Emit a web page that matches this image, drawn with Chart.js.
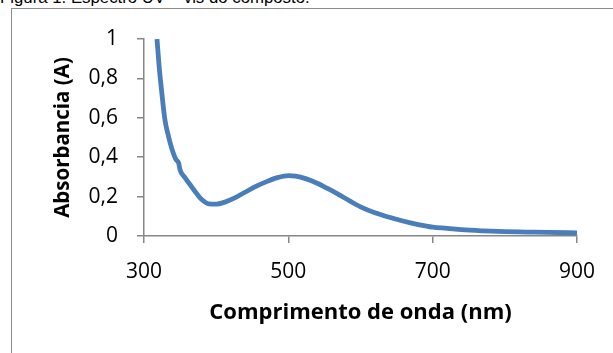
<!DOCTYPE html>
<html>
<head>
<meta charset="utf-8">
<script src="https://cdn.jsdelivr.net/npm/chart.js@4/dist/chart.umd.min.js"></script>
<style>
  html, body { margin: 0; padding: 0; background: #fff; width: 613px; height: 353px; overflow: hidden; }
  #wrap { position: relative; width: 613px; height: 353px; }
  #caption { position: absolute; left: 0; top: -12px; font-family: "Liberation Sans", Arial, sans-serif; font-size: 16.8px; line-height: 20px; color: #000; white-space: nowrap; }
  #frame { position: absolute; left: 11px; top: 8px; width: 640px; height: 400px; border: 1.5px solid #8c8c8c; box-sizing: border-box; background: #fff; }
  canvas { position: absolute; left: 0; top: 0; }
</style>
</head>
<body>
<div id="wrap">
  <div id="caption">Figura 1. Espectro UV – vis do composto.</div>
  <div id="frame"></div>
  <canvas id="c" width="613" height="353"></canvas>
</div>
<script>
const wavelength = [318, 321, 324, 329, 333, 338, 344, 348, 350, 356, 364, 371, 380, 390, 400, 412, 425, 440, 455, 470, 485, 500, 510, 525, 540, 555, 570, 585, 600, 620, 640, 660, 680, 700, 720, 740, 770, 800, 830, 860, 900];
const absorbance = [1.0, 0.86, 0.75, 0.59, 0.52, 0.45, 0.39, 0.37, 0.335, 0.30, 0.26, 0.225, 0.185, 0.163, 0.162, 0.172, 0.192, 0.222, 0.252, 0.276, 0.296, 0.306, 0.304, 0.29, 0.268, 0.24, 0.21, 0.178, 0.148, 0.118, 0.095, 0.075, 0.058, 0.045, 0.039, 0.032, 0.026, 0.022, 0.02, 0.018, 0.016];
const xTicks = [300, 500, 700, 900];
const yTicks = [0, 0.2, 0.4, 0.6, 0.8, 1];
const xTitle = "Comprimento de onda (nm)";
const yTitle = "Absorbancia (A)";

const fam = "'Open Sans', 'Liberation Sans', sans-serif";
const tickFont = { family: fam, size: 21 };
const axisGray = "#868686";

new Chart(document.getElementById("c"), {
  type: "line",
  data: {
    datasets: [{
      data: wavelength.map((x, i) => ({ x: x, y: absorbance[i] })),
      borderColor: "#4a7ebb",
      borderWidth: 4.8,
      pointRadius: 0,
      cubicInterpolationMode: "monotone",
      fill: false
    }]
  },
  options: {
    responsive: false,
    animation: false,
    devicePixelRatio: 1,
    layout: { padding: { top: 39, right: 36, bottom: 0, left: 0 } },
    plugins: { legend: { display: false }, tooltip: { enabled: false } },
    scales: {
      x: {
        type: "linear",
        min: 300, max: 900,
        afterBuildTicks: (s) => { s.ticks = xTicks.map(v => ({ value: v })); },
        afterFit: (s) => { s.height = 117; },
        border: { color: axisGray, width: 1.5 },
        grid: { drawOnChartArea: false, drawTicks: true, tickLength: 7, color: axisGray, lineWidth: 1.5 },
        ticks: { color: "#000", font: tickFont, padding: 16, maxRotation: 0 },
        title: { display: true, text: xTitle, color: "#000", font: { family: fam, size: 22, weight: "bold" }, padding: { bottom: 27, top: 0 } }
      },
      y: {
        type: "linear",
        min: 0, max: 1,
        afterBuildTicks: (s) => { s.ticks = yTicks.map(v => ({ value: v })); },
        afterFit: (s) => { s.width = 144; },
        border: { color: axisGray, width: 1.5 },
        grid: { drawOnChartArea: false, drawTicks: true, tickLength: 7, color: axisGray, lineWidth: 1.5 },
        ticks: { color: "#000", font: tickFont, padding: 19, callback: (v) => String(v).replace(".", ",") },
        title: { display: true, text: yTitle, color: "#000", font: { family: fam, size: 20.5, weight: "bold" }, padding: { top: 51, bottom: 0 } }
      }
    }
  }
});
</script>
</body>
</html>
